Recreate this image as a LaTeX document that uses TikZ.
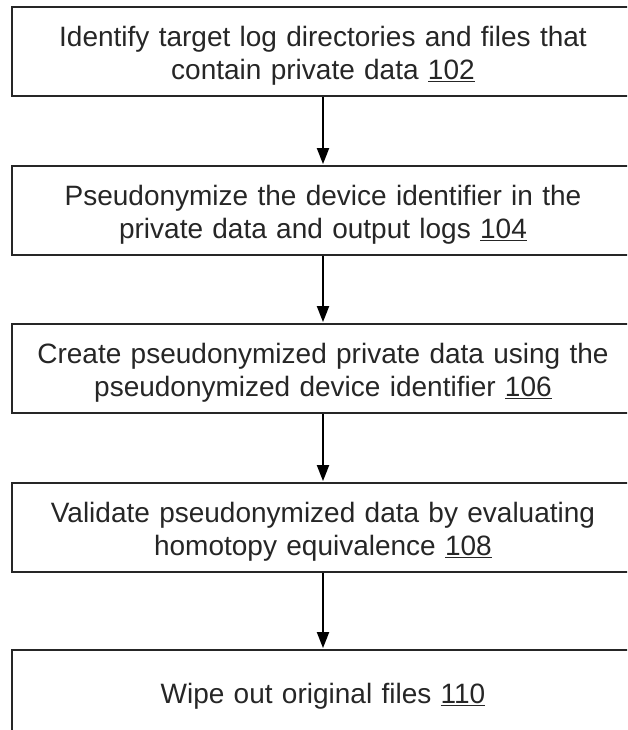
\documentclass[tikz,border=0pt]{standalone}
\usepackage{fontspec}
\setmainfont{Liberation Sans}
\usetikzlibrary{arrows.meta}
\begin{document}
\begin{tikzpicture}[x=1pt,y=-1pt,
  stepbox/.style={draw=black!85, line width=2.8pt, minimum width=622pt, minimum height=89pt, inner sep=0pt},
  steptext/.style={text width=600pt, align=center, inner sep=0pt,
    font=\fontsize{28}{33}\selectfont, text=black!85},
  flow/.style={draw=black, line width=2pt, -{Triangle[length=16pt,width=12pt]}, shorten >=0.5pt}]
\useasboundingbox (0,0) rectangle (627,730);
\clip (0,0) rectangle (627,730);
\node[stepbox] (b1) at (323,51.5) {};
\node[stepbox] (b2) at (323,210.5) {};
\node[stepbox] (b3) at (323,368.5) {};
\node[stepbox] (b4) at (323,527.5) {};
\node[stepbox] (b5) at (323,694.5) {};
\node[steptext] (t1) at ([yshift=-4.5pt]b1.center) {Identify target log directories and files that\\contain private data \underline{102}};
\node[steptext] (t2) at ([yshift=-4.5pt]b2.center) {Pseudonymize the device identifier in the\\private data and output logs \underline{104}};
\node[steptext] (t3) at ([yshift=-4.5pt]b3.center) {Create pseudonymized private data using the\\pseudonymized device identifier \underline{106}};
\node[steptext] (t4) at ([yshift=-4.5pt]b4.center) {Validate pseudonymized data by evaluating\\homotopy equivalence \underline{108}};
\node[steptext] (t5) at ([yshift=-2pt]b5.center) {Wipe out original files \underline{110}};
\draw[flow] (b1) -- (b2);
\draw[flow] (b2) -- (b3);
\draw[flow] (b3) -- (b4);
\draw[flow] (b4) -- (b5);
\end{tikzpicture}
\end{document}
